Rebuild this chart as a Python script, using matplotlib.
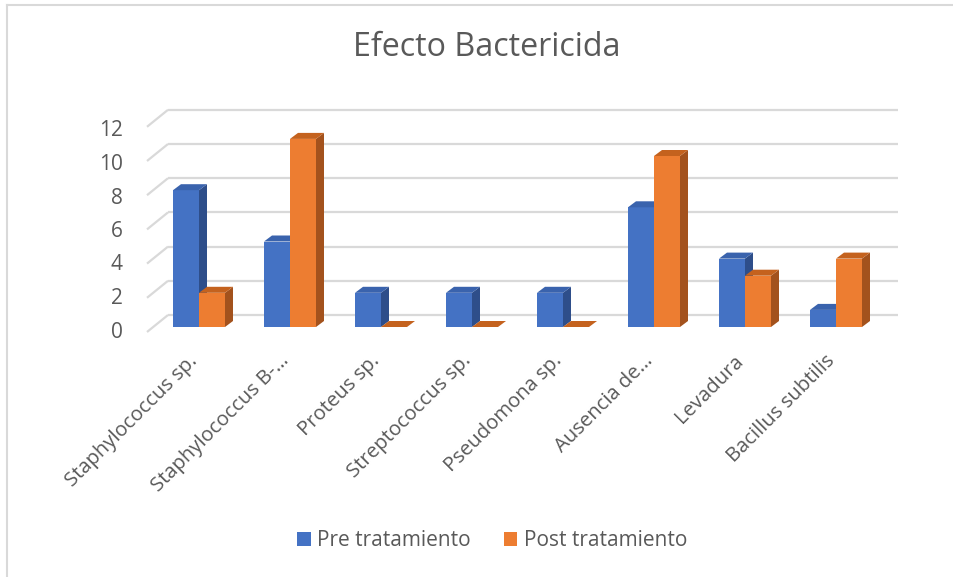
import matplotlib
matplotlib.use("Agg")
import matplotlib.pyplot as plt
from matplotlib.patches import Polygon, Patch
from matplotlib.lines import Line2D

categories = ["Staphylococcus sp.", "Staphylococcus B-…", "Proteus sp.",
              "Streptococcus sp.", "Pseudomona sp.", "Ausencia de…",
              "Levadura", "Bacillus subtilis"]
pre_values = [8, 5, 2, 2, 2, 7, 4, 1]
post_values = [2, 11, 0, 0, 0, 10, 3, 4]
series_names = ["Pre tratamiento", "Post tratamiento"]
y_ticks = [0, 2, 4, 6, 8, 10, 12]
title = "Efecto Bactericida"

FONT = ["Open Sans", "DejaVu Sans"]
TEXT = "#595959"
GRID = "#D9D9D9"
face = {"pre": ("#4472C4", "#2E4E8A", "#3A63AD"),
        "post": ("#ED7D31", "#A3521D", "#C4621E")}

W, H = 954, 577
fig = plt.figure(figsize=(W / 100, H / 100), dpi=100)
ax = fig.add_axes([0, 0, 1, 1])
ax.set_axis_off()

# pixel geometry of the plot (one category = 91 px, one unit = 17.1 px)
px_cat, px_unit = 91.0, 17.1
x0_px, y0_px = 199.0, 327.0
ax.set_xlim(-x0_px / px_cat, (W - x0_px) / px_cat)
ax.set_ylim(-(H - y0_px) / px_unit, y0_px / px_unit)

# 3-D offsets in data units
back_dx, back_dy = 15 / px_cat, 12 / px_unit      # bar front plane -> back wall
front_dy = -5 / px_unit                           # bar front plane -> floor front edge
bar_dx, bar_dy = 8 / px_cat, 6 / px_unit          # bar depth
bar_w = 26 / px_cat
x_back_left = (168 - x0_px) / px_cat
x_front_left = (147 - x0_px) / px_cat
x_right = (898 - x0_px) / px_cat
label_scale = 16.75 / px_unit

# back wall gridlines and side-wall diagonals
for v in y_ticks:
    ax.plot([x_back_left, x_right], [v + back_dy, v + back_dy],
            color=GRID, lw=1.6, zorder=1, solid_capstyle="butt")
    ax.plot([x_front_left, x_back_left], [v + front_dy, v + back_dy],
            color=GRID, lw=1.6, zorder=1, solid_capstyle="butt")
    ax.text((123 - x0_px) / px_cat, v * label_scale - 5 / px_unit, str(v),
            ha="right", va="center", fontsize=15, color=TEXT, family=FONT)


def draw_bars(xs, vals, colors, z):
    front, side, top = colors
    bars = ax.bar(xs, vals, width=bar_w, color=front, zorder=z,
                  linewidth=0)
    for rect, v in zip(bars, vals):
        l = rect.get_x()
        r = l + rect.get_width()
        ax.add_patch(Polygon([(r, 0), (r + bar_dx, bar_dy),
                              (r + bar_dx, v + bar_dy), (r, v)],
                             closed=True, facecolor=side, lw=0, zorder=z))
        ax.add_patch(Polygon([(l, v), (l + bar_dx, v + bar_dy),
                              (r + bar_dx, v + bar_dy), (r, v)],
                             closed=True, facecolor=top, lw=0, zorder=z))


for i, (a, b) in enumerate(zip(pre_values, post_values)):
    draw_bars([i - bar_w / 2], [a], face["pre"], 3 + 2 * i)
    draw_bars([i + bar_w / 2], [b], face["post"], 4 + 2 * i)

# category labels, rotated
for i, name in enumerate(categories):
    ax.text(i - 4 / px_cat, -(358 - y0_px) / px_unit, name, rotation=45,
            rotation_mode="anchor", ha="right", va="center", fontsize=14.6,
            color=TEXT, family=FONT)

fig.text(487 / W, 1 - 48 / H, title, ha="center", va="center",
         fontsize=23.2, color=TEXT, family=FONT)

handles = [Patch(facecolor=face["pre"][0]), Patch(facecolor=face["post"][0])]
fig.legend(handles, series_names, loc="center", ncol=2,
           bbox_to_anchor=(492 / W, 1 - 541 / H), frameon=False,
           handlelength=0.65, handleheight=0.65, handletextpad=0.3,
           columnspacing=1.6, prop={"family": FONT, "size": 15},
           labelcolor=TEXT)

# chart area border (left and top edges)
fig.add_artist(Line2D([7.5 / W, 7.5 / W], [0, 1 - 5 / H], color=GRID, lw=1.5))
fig.add_artist(Line2D([7.5 / W, 1], [1 - 5 / H, 1 - 5 / H], color=GRID, lw=1.5))

fig.savefig("out.png", dpi=100)
